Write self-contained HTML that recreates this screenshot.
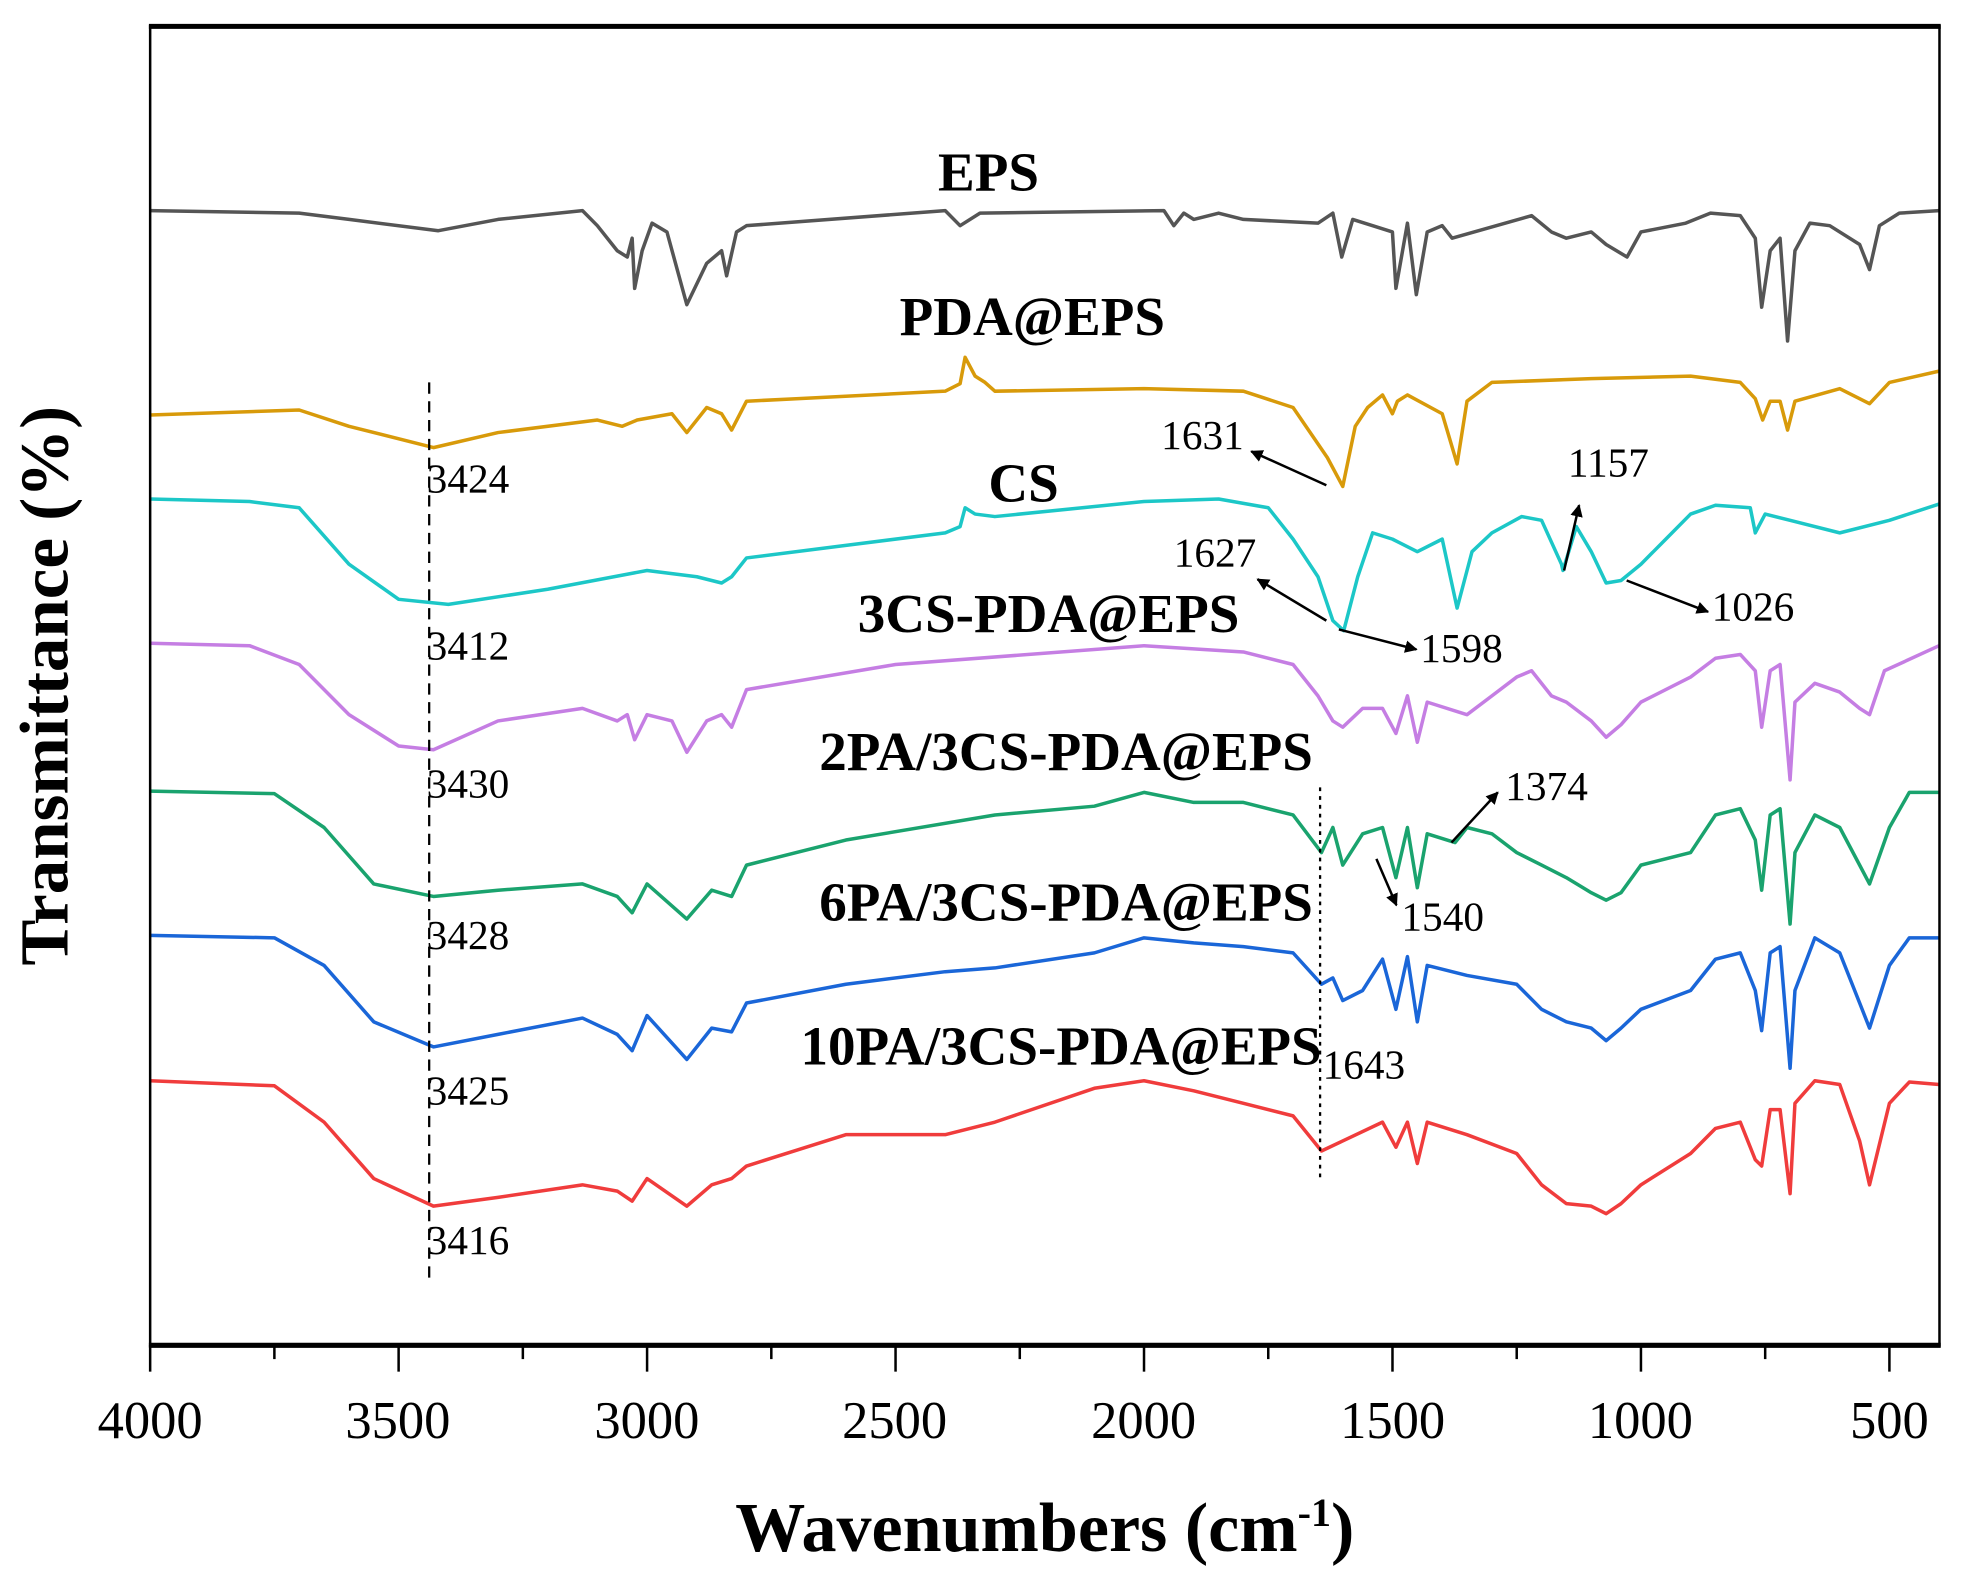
<!DOCTYPE html>
<html><head><meta charset="utf-8"><style>
html,body{margin:0;padding:0;background:#fff;}
svg{display:block;}
.l{font-family:"Liberation Serif",serif;font-weight:bold;font-size:44px;text-anchor:middle;}
.a{font-family:"Liberation Serif",serif;font-size:33px;}
.t{font-family:"Liberation Serif",serif;font-size:42px;text-anchor:middle;}
</style></head><body>
<svg id="s" width="1962" height="1571" viewBox="0 0 1568 1253" preserveAspectRatio="none" xmlns="http://www.w3.org/2000/svg">
<defs><marker id="ar" markerWidth="10" markerHeight="10" refX="9" refY="5" orient="auto" markerUnits="userSpaceOnUse"><path d="M0,0 L10,5 L0,10 z" fill="#000"/></marker></defs>
<g id="curves" fill="none" stroke-width="2.8" stroke-linejoin="round"></g>
<rect x="120" y="21" width="1430" height="1052" fill="none" stroke="#000" stroke-width="2"/>
<line x1="119" y1="21" x2="1551" y2="21" stroke="#000" stroke-width="4"/>
<line x1="119" y1="1073" x2="1551" y2="1073" stroke="#000" stroke-width="4"/>
<g id="ticks" stroke="#000" stroke-width="2"></g>
<g class="t">
<text x="120" y="1147">4000</text><text x="318" y="1147">3500</text><text x="517" y="1147">3000</text><text x="715" y="1147">2500</text><text x="914" y="1147">2000</text><text x="1113" y="1147">1500</text><text x="1311" y="1147">1000</text><text x="1510" y="1147">500</text>
</g>
<text x="835" y="1237" style="font-family:'Liberation Serif',serif;font-weight:bold;font-size:56px;text-anchor:middle">Wavenumbers (cm<tspan dy="-20" font-size="32">-1</tspan><tspan dy="20">)</tspan></text>
<text transform="translate(54,547) rotate(-90)" style="font-family:'Liberation Serif',serif;font-weight:bold;font-size:55px;text-anchor:middle">Transmittance (%)</text>
<g class="l">
<text x="790" y="152">EPS</text><text x="825" y="267">PDA@EPS</text><text x="818" y="400">CS</text>
<text x="838" y="504">3CS-PDA@EPS</text><text x="852" y="614">2PA/3CS-PDA@EPS</text>
<text x="852" y="734">6PA/3CS-PDA@EPS</text><text x="848" y="849">10PA/3CS-PDA@EPS</text>
</g>
<line x1="343" y1="305" x2="343" y2="1025" stroke="#000" stroke-width="1.8" stroke-dasharray="9,6"/>
<line x1="1055" y1="628" x2="1055" y2="940" stroke="#000" stroke-width="1.8" stroke-dasharray="3,4"/>
<g class="a">
<text x="341" y="393">3424</text><text x="341" y="526">3412</text><text x="341" y="636">3430</text>
<text x="341" y="757">3428</text><text x="341" y="881">3425</text><text x="341" y="1000">3416</text>
<text x="928" y="358">1631</text><text x="1253" y="380">1157</text><text x="938" y="452">1627</text>
<text x="1135" y="528">1598</text><text x="1368" y="495">1026</text><text x="1203" y="638">1374</text>
<text x="1120" y="742">1540</text><text x="1057" y="860">1643</text>
</g>
<g stroke="#000" stroke-width="2" marker-end="url(#ar)">
<line x1="1060" y1="387" x2="1000" y2="360"/><line x1="1250" y1="455" x2="1262" y2="403"/>
<line x1="1060" y1="495" x2="1005" y2="462"/><line x1="1070" y1="502" x2="1132" y2="518"/>
<line x1="1300" y1="463" x2="1365" y2="488"/><line x1="1160" y1="672" x2="1197" y2="632"/>
<line x1="1100" y1="685" x2="1116" y2="722"/>
</g>
</svg>
<script>
function X(w){return 120+(4000-w)*0.39714;}
var S=[
["#555",[[4000,168],[3700,170],[3600,175],[3420,184],[3300,175],[3130,168],[3100,180],[3060,200],[3040,205],[3030,190],[3025,230],[3010,200],[2990,178],[2960,185],[2920,243],[2880,210],[2850,200],[2840,220],[2820,185],[2800,180],[2400,168],[2370,180],[2330,170],[1960,168],[1940,180],[1920,170],[1900,175],[1850,170],[1800,175],[1650,178],[1620,170],[1602,205],[1580,175],[1540,180],[1500,185],[1493,230],[1470,178],[1452,235],[1430,185],[1400,180],[1380,190],[1220,172],[1180,185],[1150,190],[1100,185],[1070,195],[1028,205],[1000,185],[910,178],[860,170],[800,172],[770,190],[757,245],[740,200],[720,190],[705,272],[690,200],[660,178],[620,180],[560,195],[540,215],[520,180],[480,170],[400,168]]],
["#d89a0a",[[4000,331],[3700,327],[3600,340],[3430,357],[3300,345],[3100,335],[3050,340],[3020,335],[2950,330],[2920,345],[2880,325],[2850,330],[2830,343],[2800,320],[2700,318],[2400,312],[2370,306],[2360,285],[2340,300],[2320,305],[2300,312],[2000,310],[1800,312],[1700,325],[1631,365],[1600,388],[1575,340],[1550,325],[1520,315],[1500,330],[1490,320],[1470,315],[1400,330],[1370,370],[1350,320],[1300,305],[1100,302],[900,300],[800,305],[770,318],[755,335],[740,320],[720,320],[705,343],[690,320],[600,310],[540,322],[500,305],[400,296]]],
["#1cc7c7",[[4000,398],[3800,400],[3700,405],[3600,450],[3500,478],[3400,482],[3200,470],[3000,455],[2900,460],[2850,465],[2830,460],[2800,445],[2600,435],[2400,425],[2370,420],[2360,405],[2340,410],[2300,412],[2000,400],[1850,398],[1750,405],[1700,430],[1650,460],[1620,495],[1598,503],[1570,460],[1540,425],[1500,430],[1450,440],[1400,430],[1370,485],[1340,440],[1300,425],[1240,412],[1200,415],[1160,450],[1157,455],[1130,420],[1100,440],[1070,465],[1040,463],[1000,450],[950,430],[900,410],[850,403],[780,405],[770,425],[750,410],[700,415],[600,425],[500,415],[400,402]]],
["#c57ee3",[[4000,513],[3800,515],[3700,530],[3600,570],[3500,595],[3430,598],[3300,575],[3130,565],[3060,575],[3040,570],[3025,590],[3000,570],[2950,575],[2920,600],[2880,575],[2850,570],[2830,580],[2800,550],[2500,530],[2000,515],[1800,520],[1700,530],[1650,555],[1620,575],[1600,580],[1560,565],[1520,565],[1493,585],[1470,555],[1450,592],[1430,560],[1350,570],[1300,555],[1250,540],[1220,535],[1180,555],[1150,560],[1100,575],[1070,588],[1040,578],[1000,560],[900,540],[850,525],[800,522],[770,535],[757,580],[740,535],[720,530],[700,622],[690,560],[650,545],[600,552],[560,565],[540,570],[510,535],[400,515]]],
["#1aa36e",[[4000,631],[3750,633],[3650,660],[3550,705],[3430,715],[3300,710],[3130,705],[3060,715],[3030,728],[3000,705],[2920,733],[2870,710],[2830,715],[2800,690],[2600,670],[2300,650],[2100,643],[2000,632],[1900,640],[1800,640],[1700,650],[1643,680],[1620,660],[1600,690],[1560,665],[1520,660],[1493,700],[1470,660],[1450,708],[1430,665],[1374,672],[1350,660],[1300,665],[1250,680],[1200,690],[1150,700],[1100,712],[1070,718],[1040,712],[1000,690],[900,680],[850,650],[800,645],[770,670],[757,710],[740,650],[720,645],[700,737],[690,680],[650,650],[600,660],[560,690],[540,705],[500,660],[460,632],[400,632]]],
["#1a66d8",[[4000,746],[3750,748],[3650,770],[3550,815],[3430,835],[3300,825],[3130,812],[3060,825],[3030,838],[3000,810],[2920,845],[2870,820],[2830,823],[2800,800],[2600,785],[2400,775],[2300,772],[2100,760],[2000,748],[1900,752],[1800,755],[1700,760],[1643,785],[1620,780],[1600,798],[1560,790],[1520,765],[1493,805],[1470,763],[1450,815],[1430,770],[1350,778],[1250,785],[1200,805],[1150,815],[1100,820],[1070,830],[1040,820],[1000,805],[900,790],[850,765],[800,760],[770,790],[757,822],[740,760],[720,755],[700,852],[690,790],[650,748],[600,760],[560,800],[540,820],[500,770],[460,748],[400,748]]],
["#f03c3c",[[4000,862],[3750,866],[3650,895],[3550,940],[3430,962],[3300,955],[3130,945],[3060,950],[3030,958],[3000,940],[2920,962],[2870,945],[2830,940],[2800,930],[2600,905],[2400,905],[2300,895],[2100,868],[2000,862],[1900,870],[1800,880],[1700,890],[1643,918],[1600,910],[1520,895],[1493,915],[1470,895],[1450,928],[1430,895],[1350,905],[1250,920],[1200,945],[1150,960],[1100,962],[1070,968],[1040,960],[1000,945],[900,920],[850,900],[800,895],[770,925],[757,930],[740,885],[720,885],[700,952],[690,880],[650,862],[600,865],[560,910],[540,945],[500,880],[460,863],[400,865]]]
];
var ns="http://www.w3.org/2000/svg",g=document.getElementById("curves");
S.forEach(function(s){var p=document.createElementNS(ns,"polyline");
p.setAttribute("points",s[1].map(function(q){return X(q[0]).toFixed(1)+","+q[1];}).join(" "));
p.setAttribute("stroke",s[0]);g.appendChild(p);});
var t=document.getElementById("ticks");
for(var w=4000;w>=500;w-=250){var l=document.createElementNS(ns,"line");var x=X(w);
l.setAttribute("x1",x);l.setAttribute("x2",x);l.setAttribute("y1",1073);l.setAttribute("y2",(w%500==0)?1094:1084);t.appendChild(l);}
</script>
</body></html>
